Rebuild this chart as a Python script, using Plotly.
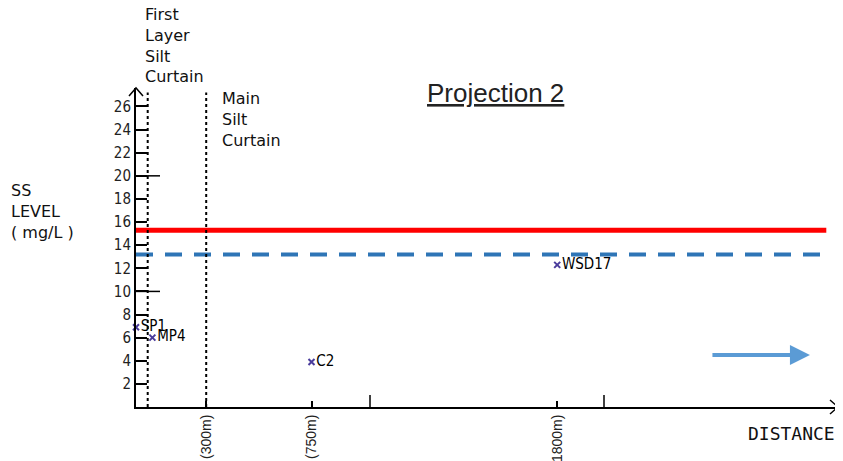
import plotly.graph_objects as go

# monitoring stations: distance (m) and SS level (mg/L)
stations = ["SP1", "MP4", "C2", "WSD17"]
station_dist = [0, 70, 750, 1800]
station_ss = [6.9, 6.0, 3.9, 12.3]

# compliance levels (mg/L)
limit_level = 15.3
action_level = 13.2
level_extent = [0, 2950]

# silt curtains (m)
first_curtain = 50
main_curtain = 300

y_ticks = [2, 4, 6, 8, 10, 12, 14, 16, 18, 20, 22, 24, 26]
y_long_ticks = [10, 20]
x_ticks = [300, 750, 1800]
x_tick_text = ["(300m)", "(750m)", "(1800m)"]
x_long_ticks = [1000, 2000]

X_MAX = 3000
Y_MAX = 27.6

# the page body has an 8px margin, so the figure starts at (8, 8) in the window
OFF = 8
W, H = 843 - OFF, 461 - OFF
L, R, T, B = 136 - OFF, 5, 88 - OFF, 54

NARROW = "Liberation Sans Narrow, Arial Narrow, DejaVu Sans Condensed, sans-serif"
DRAW = "DejaVu Sans, sans-serif"
MONO = "DejaVu Sans Mono, monospace"


def px(x, y):
    """window pixel -> paper coords of the plot area"""
    x, y = x - OFF, y - OFF
    return (x - L) / (W - L - R), (H - B - y) / (H - T - B)


def label(x, y, text, font, xanchor="left", yanchor="top", align="left"):
    px_, py_ = px(x, y)
    return dict(x=px_, y=py_, xref="paper", yref="paper", text=text, showarrow=False,
                xanchor=xanchor, yanchor=yanchor, align=align, font=font)


fig = go.Figure()

fig.add_trace(go.Scatter(
    x=level_extent, y=[limit_level] * 2, mode="lines",
    line=dict(color="#ff0000", width=5), showlegend=False, hoverinfo="skip",
))
fig.add_trace(go.Scatter(
    x=level_extent, y=[action_level] * 2, mode="lines",
    line=dict(color="#2e75b6", width=4, dash="17px,12px"), showlegend=False, hoverinfo="skip",
))
fig.add_trace(go.Scatter(
    x=station_dist, y=station_ss, mode="markers+text",
    marker=dict(symbol="x-thin", size=6, line=dict(color="#4a3c9c", width=2)),
    text=stations, textposition="middle right",
    textfont=dict(family=NARROW, size=15, color="black"),
    cliponaxis=False, showlegend=False,
))

shapes = [
    # silt curtains
    dict(type="line", x0=first_curtain, x1=first_curtain, y0=0, y1=27.2,
         line=dict(color="black", width=2, dash="dot")),
    dict(type="line", x0=main_curtain, x1=main_curtain, y0=0, y1=27.2,
         line=dict(color="black", width=2, dash="dot")),
    # axis arrowheads (paper refs so they are not clipped)
    dict(type="path", xref="paper", yref="paper", xsizemode="pixel", ysizemode="pixel",
         xanchor=0, yanchor=1, path="M -7,-8 L 0,0 L 7,-8", line=dict(color="black", width=1.5)),
    dict(type="path", xref="paper", yref="paper", xsizemode="pixel", ysizemode="pixel",
         xanchor=1, yanchor=0, path="M -8,7 L 0,0 L -8,-7", line=dict(color="black", width=1.5)),
]
for v in y_long_ticks:
    shapes.append(dict(type="line", xref="x", xsizemode="pixel", xanchor=0, x0=0, x1=24,
                       y0=v, y1=v, line=dict(color="black", width=1.5)))
for v in x_long_ticks:
    shapes.append(dict(type="line", yref="y", ysizemode="pixel", yanchor=0, y0=0, y1=12,
                       x0=v, x1=v, line=dict(color="black", width=1.5)))

text_font = dict(family=DRAW, size=16, color="#111")
annotations = [
    label(143, 3, "First<br>Layer<br>Silt<br>Curtain", text_font),
    label(220, 87, "Main<br>Silt<br>Curtain", text_font),
    label(9, 179, "SS<br>LEVEL<br>( mg/L )", text_font),
    label(495, 93, "<u>Projection 2</u>", dict(family="Liberation Sans, Arial", size=26, color="#222"),
          xanchor="center", yanchor="middle"),
    label(837, 433, "DISTANCE", dict(family=MONO, size=18, color="#111"),
          xanchor="right", yanchor="middle"),
    dict(x=2880, y=4.5, ax=2457, ay=4.5, xref="x", yref="y", axref="x", ayref="y",
         text="", showarrow=True, arrowhead=2, arrowsize=1, arrowwidth=4, arrowcolor="#5b9bd5"),
]

fig.update_layout(
    width=W, height=H,
    margin=dict(l=L, r=R, t=T, b=B),
    plot_bgcolor="white", paper_bgcolor="white",
    shapes=shapes, annotations=annotations,
    xaxis=dict(
        range=[0, X_MAX], showgrid=False, zeroline=False, automargin=False,
        showline=True, linecolor="black", linewidth=2,
        tickvals=x_ticks, ticktext=x_tick_text, tickangle=-90,
        ticks="inside", ticklen=6, tickwidth=1.5, tickcolor="black",
        tickfont=dict(family="Liberation Sans, Arial", size=14, color="#222"),
    ),
    yaxis=dict(
        range=[0, Y_MAX], showgrid=False, zeroline=False, automargin=False,
        showline=True, linecolor="black", linewidth=2,
        tickvals=y_ticks, ticks="inside", ticklen=11, tickwidth=1.5, tickcolor="black",
        tickfont=dict(family=NARROW, size=15, color="#222"),
    ),
)

fig.write_html("out.html")
